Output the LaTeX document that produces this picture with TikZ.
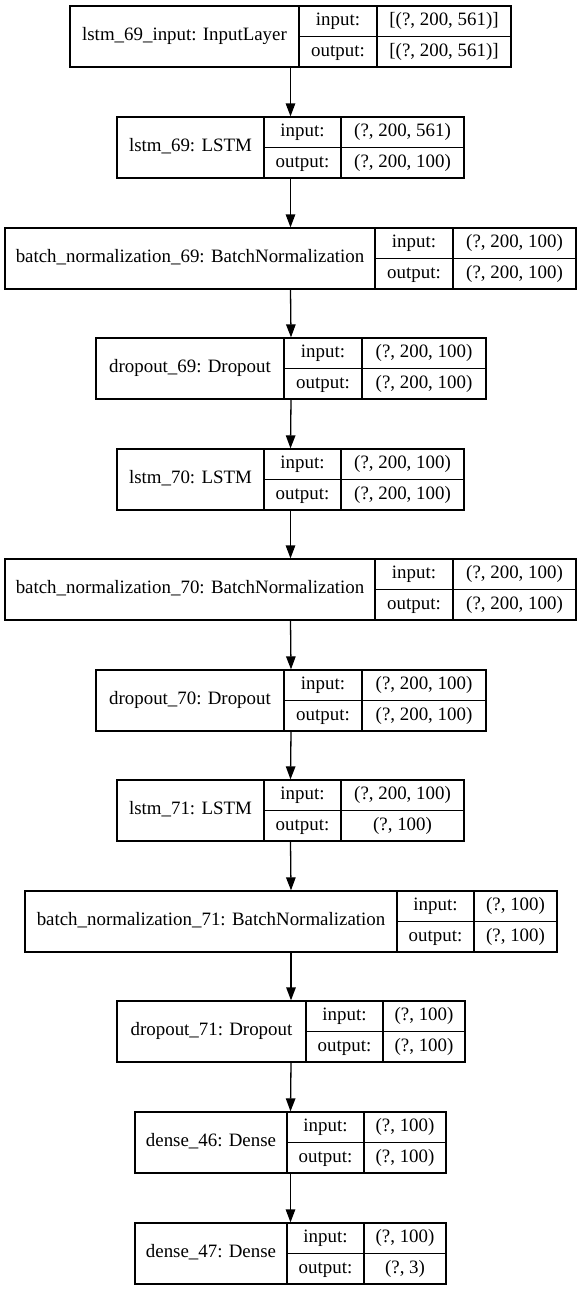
\documentclass[tikz,border=0pt]{standalone}
\usepackage{fontspec}
\setmainfont{Liberation Serif}
\usetikzlibrary{arrows.meta}

\tikzset{
	layerbox/.style={draw, line width=1.3pt, inner sep=0pt},
	celltext/.style={inner sep=0pt, font=\fontsize{18.9}{22}\selectfont, text height=12.5pt, text depth=4pt},
	flow/.style={line width=1.3pt, -{Triangle[length=13pt, width=9.5pt]}},
}

% #1 name, #2 top, #3 left, #4 first divider, #5 second divider, #6 right, #7 layer, #8 input, #9 output
\newcommand{\kerasbox}[9]{%
	\node[layerbox, minimum width={(#6-#3)*1pt}, minimum height=61pt] (#1) at ({(#3+#6)/2}, {#2+30.5}) {};
	\draw[line width=1.3pt] (#4,#2) -- (#4,{#2+61});
	\draw[line width=1.3pt] (#5,#2) -- (#5,{#2+61});
	\draw[line width=1.3pt] (#4,{#2+30.5}) -- (#6,{#2+30.5});
	\node[celltext] (#1-lab) at ({(#3+#4)/2}, {#2+30.5}) {#7};
	\node[celltext] (#1-ink) at ({(#4+#5)/2}, {#2+15.25}) {input:};
	\node[celltext] (#1-outk) at ({(#4+#5)/2}, {#2+45.75}) {output:};
	\node[celltext] (#1-inv) at ({(#5+#6)/2}, {#2+15.25}) {#8};
	\node[celltext] (#1-outv) at ({(#5+#6)/2}, {#2+45.75}) {#9};
}

\begin{document}
\begin{tikzpicture}[x=1pt, y=-1pt]

	\useasboundingbox (0,0) rectangle (581,1291);

	\kerasbox{inp}{6}{70}{299}{377}{511}{lstm\_69\_input: InputLayer}{[(?, 200, 561)]}{[(?, 200, 561)]}
	\kerasbox{lstmA}{117}{117}{264}{341}{464}{lstm\_69: LSTM}{(?, 200, 561)}{(?, 200, 100)}
	\kerasbox{bnA}{228}{5}{375}{453}{576}{batch\_normalization\_69: BatchNormalization}{(?, 200, 100)}{(?, 200, 100)}
	\kerasbox{dropA}{338}{96}{284}{362}{486}{dropout\_69: Dropout}{(?, 200, 100)}{(?, 200, 100)}
	\kerasbox{lstmB}{449}{117}{264}{341}{464}{lstm\_70: LSTM}{(?, 200, 100)}{(?, 200, 100)}
	\kerasbox{bnB}{559}{5}{375}{453}{576}{batch\_normalization\_70: BatchNormalization}{(?, 200, 100)}{(?, 200, 100)}
	\kerasbox{dropB}{670}{96}{284}{362}{486}{dropout\_70: Dropout}{(?, 200, 100)}{(?, 200, 100)}
	\kerasbox{lstmC}{780}{117}{264}{341}{464}{lstm\_71: LSTM}{(?, 200, 100)}{(?, 100)}
	\kerasbox{bnC}{891}{25}{397}{474}{557}{batch\_normalization\_71: BatchNormalization}{(?, 100)}{(?, 100)}
	\kerasbox{dropC}{1001}{117}{306}{383}{465}{dropout\_71: Dropout}{(?, 100)}{(?, 100)}
	\kerasbox{denseA}{1112}{135}{287}{364}{446}{dense\_46: Dense}{(?, 100)}{(?, 100)}
	\kerasbox{denseB}{1223}{135}{287}{364}{446}{dense\_47: Dense}{(?, 100)}{(?, 3)}

	\draw[flow] (inp.south) -- (lstmA.north);
	\draw[flow] (lstmA.south) -- (bnA.north);
	\draw[flow] (bnA.south) -- (dropA.north);
	\draw[flow] (dropA.south) -- (lstmB.north);
	\draw[flow] (lstmB.south) -- (bnB.north);
	\draw[flow] (bnB.south) -- (dropB.north);
	\draw[flow] (dropB.south) -- (lstmC.north);
	\draw[flow] (lstmC.south) -- (bnC.north);
	\draw[flow] (bnC.south) -- (dropC.north);
	\draw[flow] (dropC.south) -- (denseA.north);
	\draw[flow] (denseA.south) -- (denseB.north);

\end{tikzpicture}
\end{document}
